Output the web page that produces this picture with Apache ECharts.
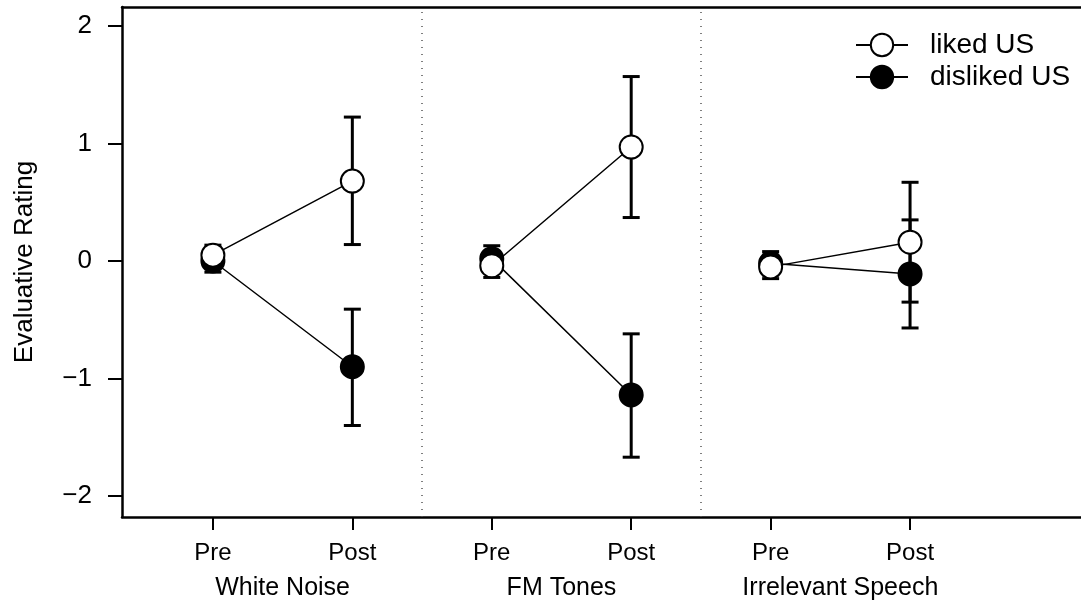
<!DOCTYPE html>
<html>
<head>
<meta charset="utf-8">
<script src="https://cdn.jsdelivr.net/npm/echarts@6/dist/echarts.min.js"></script>
<style>
  html, body { margin: 0; padding: 0; background: #fff; }
  #chart { width: 1081px; height: 601px; }
</style>
</head>
<body>
<div id="chart"></div>
<script>
// conditions and phases
const conditions = ["White Noise", "FM Tones", "Irrelevant Speech"];
const phases = ["Pre", "Post"];
const xPos = [1, 2, 3, 4, 5, 6];
const groupCenters = [1.5, 3.5, 5.5];
const dividers = [2.5, 4.5];
const yTicks = [-2, -1, 0, 1, 2];

// means and error bar ends, ordered WN pre/post, FM pre/post, IS pre/post
const likedMean = [0.05, 0.68, -0.04, 0.97, -0.05, 0.16];
const likedLow = [-0.035, 0.14, -0.14, 0.37, -0.15, -0.35];
const likedHigh = [0.135, 1.225, 0.06, 1.57, 0.05, 0.67];
const dislikedMean = [0.00, -0.90, 0.02, -1.14, -0.02, -0.11];
const dislikedLow = [-0.095, -1.40, -0.09, -1.67, -0.12, -0.57];
const dislikedHigh = [0.095, -0.41, 0.13, -0.62, 0.08, 0.35];

const FONT = "'Liberation Sans', Arial, sans-serif";

// build segmented line data: one segment per condition
function lineData(means) {
  const out = [];
  conditions.forEach((c, i) => {
    out.push([xPos[2 * i], means[2 * i]]);
    out.push([xPos[2 * i + 1], means[2 * i + 1]]);
    if (i < conditions.length - 1) out.push([dividers[i], "-"]);
  });
  return out;
}

function barData(low, high) {
  return xPos.map((x, i) => [x, low[i], high[i]]);
}

const chart = echarts.init(document.getElementById("chart"));

function renderErrorBar(params, api) {
  const x = api.value(0);
  const lo = api.coord([x, api.value(1)]);
  const hi = api.coord([x, api.value(2)]);
  const half = 8.5;
  const style = { stroke: "#000", lineWidth: 3 };
  return {
    type: "group",
    children: [
      { type: "line", shape: { x1: lo[0], y1: lo[1], x2: hi[0], y2: hi[1] }, style },
      { type: "line", shape: { x1: lo[0] - half, y1: lo[1], x2: lo[0] + half, y2: lo[1] }, style },
      { type: "line", shape: { x1: hi[0] - half, y1: hi[1], x2: hi[0] + half, y2: hi[1] }, style },
    ],
  };
}

const option = {
  backgroundColor: "#fff",
  animation: false,
  grid: { left: 122, top: 7, right: 0, bottom: 84 },
  legend: {
    data: ["liked US", "disliked US"],
    orient: "vertical",
    left: 850,
    top: 26,
    itemWidth: 52,
    itemHeight: 28,
    itemGap: 4,
    textStyle: { fontFamily: FONT, fontSize: 28, color: "#000", padding: [0, 0, 0, 17] },
  },
  xAxis: [
    {
      type: "value",
      min: 0.348,
      max: 7.226,
      position: "bottom",
      splitLine: { show: false },
      axisLine: { show: true, onZero: false, lineStyle: { color: "#000", width: 2.5 } },
      axisTick: { show: true, customValues: xPos, length: 13, lineStyle: { color: "#000", width: 2 } },
      axisLabel: {
        customValues: xPos,
        margin: 24,
        fontFamily: FONT,
        fontSize: 24,
        color: "#000",
        formatter: (v) => phases[(Math.round(v) - 1) % 2],
      },
    },
    {
      type: "value",
      min: 0.348,
      max: 7.226,
      position: "bottom",
      splitLine: { show: false },
      axisLine: { show: false },
      axisTick: { show: false },
      axisLabel: {
        customValues: groupCenters,
        margin: 59,
        fontFamily: FONT,
        fontSize: 25,
        color: "#000",
        formatter: (v) => conditions[Math.round((v - 1.5) / 2)],
      },
    },
    {
      type: "value",
      min: 0.348,
      max: 7.226,
      position: "top",
      splitLine: { show: false },
      axisLine: { show: true, onZero: false, lineStyle: { color: "#000", width: 2.5 } },
      axisTick: { show: false },
      axisLabel: { show: false },
    },
  ],
  yAxis: {
    type: "value",
    min: -2.179,
    max: 2.162,
    name: "Evaluative Rating",
    nameLocation: "middle",
    nameGap: 84,
    nameTextStyle: { fontFamily: FONT, fontSize: 26, color: "#000" },
    splitLine: { show: false },
    axisLine: { show: true, onZero: false, lineStyle: { color: "#000", width: 2.5 } },
    axisTick: { show: true, customValues: yTicks, length: 14, lineStyle: { color: "#000", width: 2 } },
    axisLabel: {
      customValues: yTicks,
      margin: 30,
      fontFamily: FONT,
      fontSize: 26,
      color: "#000",
      formatter: (v) => (v < 0 ? "\u2212" + Math.abs(v) : String(v)),
    },
  },
  series: [
    {
      name: "dividers",
      type: "line",
      data: [],
      silent: true,
      markLine: {
        symbol: "none",
        silent: true,
        label: { show: false },
        lineStyle: { color: "#555", type: [1, 6], width: 1.5 },
        data: dividers.map((d) => ({ xAxis: d })),
      },
    },
    {
      name: "liked err",
      type: "custom",
      renderItem: renderErrorBar,
      data: barData(likedLow, likedHigh),
      z: 1,
    },
    {
      name: "disliked err",
      type: "custom",
      renderItem: renderErrorBar,
      data: barData(dislikedLow, dislikedHigh),
      z: 1,
    },
    {
      name: "disliked US",
      type: "line",
      data: lineData(dislikedMean),
      symbol: "circle",
      symbolSize: 23,
      showAllSymbol: true,
      connectNulls: false,
      lineStyle: { color: "#000", width: 1.5 },
      itemStyle: { color: "#000", borderColor: "#000", borderWidth: 2 },
      z: 3,
    },
    {
      name: "liked US",
      type: "line",
      data: lineData(likedMean),
      symbol: "circle",
      symbolSize: 23,
      showAllSymbol: true,
      connectNulls: false,
      lineStyle: { color: "#000", width: 1.5 },
      itemStyle: { color: "#fff", borderColor: "#000", borderWidth: 2 },
      z: 4,
    },
  ],
};

chart.setOption(option);
</script>
</body>
</html>
